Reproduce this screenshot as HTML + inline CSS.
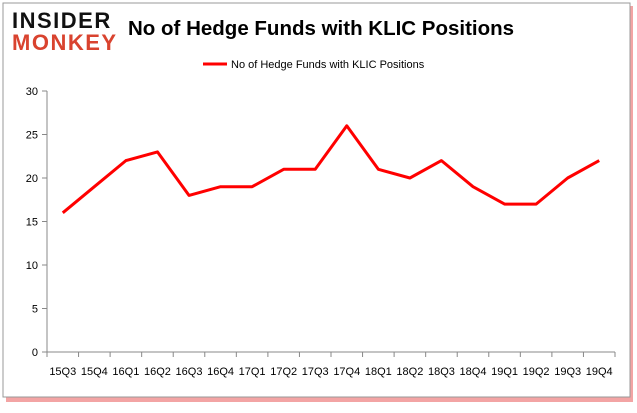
<!DOCTYPE html>
<html><head><meta charset="utf-8"><style>
body{margin:0;background:#fff;width:637px;height:408px;overflow:hidden;font-family:"Liberation Sans",sans-serif}
</style></head><body>
<svg width="637" height="408">
<rect x="6" y="6" width="627" height="396" fill="#e84a4a" opacity="0.5"/>
<rect x="3" y="3" width="627" height="394" fill="#fff" stroke="#999"/>
<text x="12" y="28" font-family="Liberation Sans" font-weight="bold" font-size="22" fill="#111" letter-spacing="1.5">INSIDER</text>
<text x="12" y="50" font-family="Liberation Sans" font-weight="bold" font-size="22" fill="#d9432f" letter-spacing="1.5">MONKEY</text>
<text x="128" y="35" font-size="20.5" font-weight="bold" fill="#000">No of Hedge Funds with KLIC Positions</text>
<line x1="203" y1="64" x2="227" y2="64" stroke="#f00" stroke-width="3"/>
<text x="231" y="68" font-size="11" fill="#000">No of Hedge Funds with KLIC Positions</text>
<g id="axes"></g>
</svg>
<script>
const categories=["15Q3","15Q4","16Q1","16Q2","16Q3","16Q4","17Q1","17Q2","17Q3","17Q4","18Q1","18Q2","18Q3","18Q4","19Q1","19Q2","19Q3","19Q4"];
const values=[16,19,22,23,18,19,19,21,21,26,21,20,22,19,17,17,20,22];
const yTicks=[0,5,10,15,20,25,30];
const L=47,R=615,T=91,B=352,ymax=30;
const bw=(R-L)/categories.length;
const xs=i=>L+bw*(i+0.5), ys=v=>B-(v/ymax)*(B-T);
const g=document.getElementById('axes');const ns="http://www.w3.org/2000/svg";
function el(t,a,txt){const e=document.createElementNS(ns,t);for(const k in a)e.setAttribute(k,a[k]);if(txt!==undefined)e.textContent=txt;g.appendChild(e);return e;}
yTicks.forEach(v=>{const l=el('line',{x1:L-5,x2:L,y1:ys(v),y2:ys(v),stroke:'#888'});


const t=el('text',{x:L-9,y:ys(v)+4,'text-anchor':'end','font-size':11,fill:'#000'},v);

});
const ya=el('line',{x1:L,x2:L,y1:T,y2:B,stroke:'#888'});


const xa=el('line',{x1:L,x2:R,y1:B,y2:B,stroke:'#888'});


for(let i=0;i<=categories.length;i++){const l=el('line',{x1:L+bw*i,x2:L+bw*i,y1:B,y2:B+5,stroke:'#888'});

}
categories.forEach((c,i)=>{const t=el('text',{x:xs(i),y:B+23,'text-anchor':'middle','font-size':11,fill:'#000'},c);

});
const p=el('polyline',{points:values.map((v,i)=>xs(i)+','+ys(v)).join(' '),fill:'none',stroke:'#f00','stroke-width':3,'stroke-linejoin':'round'});


</script>
</body></html>
